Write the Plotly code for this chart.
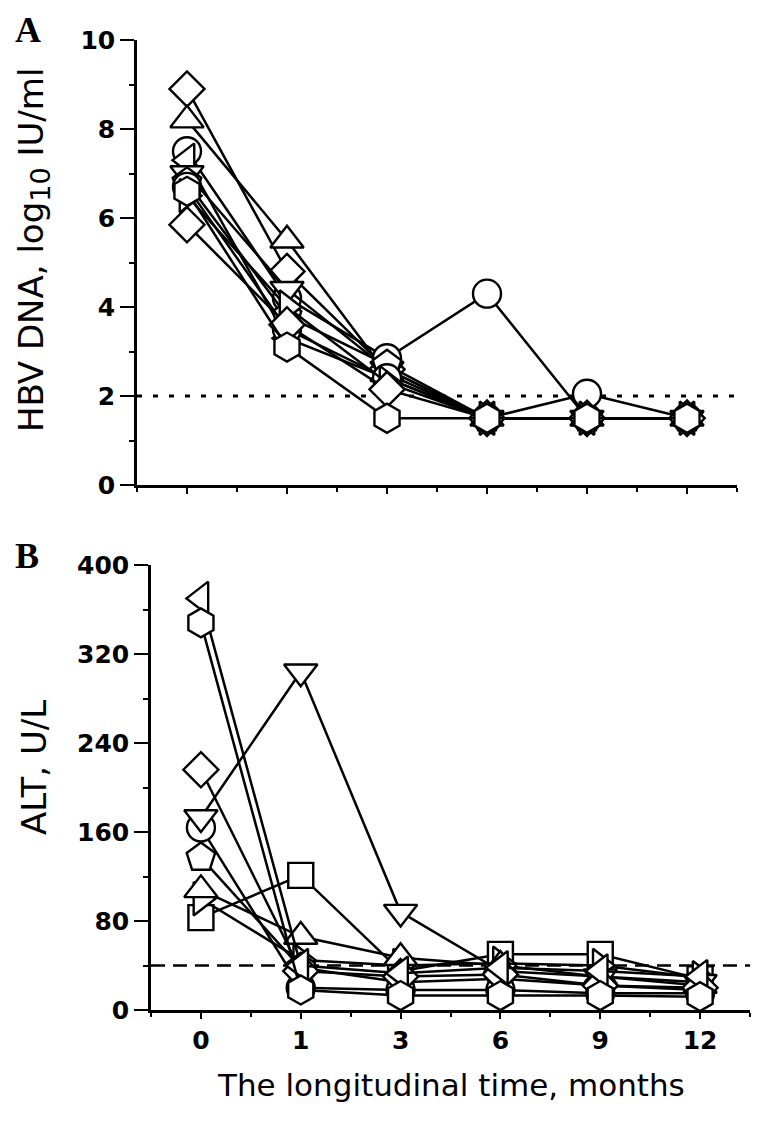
import plotly.graph_objects as go

months = ["0", "1", "3", "6", "9", "12"]
xpos = [0, 1, 2, 3, 4, 5]

# Panel A: HBV DNA, log10 IU/ml
dna_diamond = [8.9, 4.8, 2.6, 1.5, 1.5, 1.5]
dna_tri_up = [8.2, 5.5, 2.5, 1.5, 1.5, 1.5]
dna_circle = [7.5, 4.2, 2.85, 4.3, 1.5, 1.5]
dna_tri_left = [7.3, 3.3, 2.4, 1.5, 1.5, 1.5]
dna_tri_down = [7.0, 4.4, 2.6, 1.5, 1.5, 1.5]
dna_pentagon = [6.8, 3.8, 2.7, 1.5, 1.5, 1.5]
dna_circle2 = [6.7, 3.5, 2.4, 1.5, 2.05, 1.5]
dna_hexagon = [6.6, 3.1, 1.5, 1.5, 1.5, 1.5]
dna_tri_right = [6.5, 4.0, 2.3, 1.5, 1.5, 1.5]
dna_diamond2 = [5.85, 3.6, 2.15, 1.5, 1.5, 1.5]

# Panel B: ALT, U/L
alt_tri_left = [370, 40, 33, 38, 35, 30]
alt_hexagon = [348, 18, 13, 13, 13, 12]
alt_diamond = [216, 35, 30, 32, 22, 20]
alt_tri_down = [173, 304, 88, 35, 30, 25]
alt_circle = [164, 20, 18, 18, 15, 15]
alt_pentagon = [137, 38, 25, 28, 22, 18]
alt_tri_up = [108, 66, 47, 40, 30, 22]
alt_tri_right = [100, 45, 40, 42, 40, 29]
alt_square = [83, 121, 35, 50, 50, 28]

dna_limit = 2
alt_uln = 40

dna_series = [
    (dna_diamond, "diamond"), (dna_tri_up, "triangle-up"), (dna_circle, "circle"),
    (dna_tri_left, "triangle-left"), (dna_tri_down, "triangle-down"),
    (dna_pentagon, "pentagon"), (dna_circle2, "circle"), (dna_tri_right, "triangle-right"),
    (dna_diamond2, "diamond"), (dna_hexagon, "hexagon"),
]
alt_series = [
    (alt_square, "square"), (alt_tri_right, "triangle-right"), (alt_tri_up, "triangle-up"),
    (alt_pentagon, "pentagon"), (alt_circle, "circle"), (alt_tri_down, "triangle-down"),
    (alt_diamond, "diamond"), (alt_tri_left, "triangle-left"), (alt_hexagon, "hexagon"),
]

sizes = {"diamond": 27, "triangle-up": 29, "triangle-down": 29, "triangle-left": 29,
         "triangle-right": 29, "circle": 28, "square": 25, "pentagon": 30, "hexagon": 29}

fig = go.Figure()
for vals, sym in dna_series:
    fig.add_trace(go.Scatter(
        x=xpos, y=vals, mode="lines+markers", xaxis="x", yaxis="y",
        line=dict(color="black", width=2.5),
        marker=dict(symbol=sym, size=sizes[sym], color="white", line=dict(color="black", width=2.4)),
        cliponaxis=False, showlegend=False))
for vals, sym in alt_series:
    fig.add_trace(go.Scatter(
        x=xpos, y=vals, mode="lines+markers", xaxis="x2", yaxis="y2",
        line=dict(color="black", width=2.5),
        marker=dict(symbol=sym, size=sizes[sym], color="white", line=dict(color="black", width=2.4)),
        cliponaxis=False, showlegend=False))

OFF = 8  # page body margin
W, H = 764 - OFF, 1125 - OFF

def px(p):
    return (p - OFF) / W

def py(p):
    return 1 - (p - OFF) / H

tickfont = dict(family="DejaVu Sans", size=25, color="black", weight="bold")

def xax(x0, x1, anchor, labels):
    return dict(domain=[px(x0), px(x1)], range=[-0.5, 5.5], anchor=anchor, automargin=False,
                showline=True, linecolor="black", linewidth=2.5, mirror=False,
                showgrid=False, zeroline=False, ticks="outside", ticklen=6, tickwidth=2,
                tickcolor="black", tickvals=xpos, ticktext=months, showticklabels=labels,
                tickfont=tickfont,
                minor=dict(ticks="outside", tickvals=[-0.5, 0.5, 1.5, 2.5, 3.5, 4.5, 5.5],
                           ticklen=4, tickwidth=2, tickcolor="black"))

def yax(ytop, ybot, anchor, rng, tv, mv):
    return dict(domain=[py(ybot), py(ytop)], range=rng, anchor=anchor, automargin=False,
                showline=True, linecolor="black", linewidth=2.5,
                showgrid=False, zeroline=False, ticks="outside", ticklen=14, tickwidth=2,
                tickcolor="black", tickvals=tv, tickfont=tickfont,
                minor=dict(ticks="outside", tickvals=mv, ticklen=5, tickwidth=2, tickcolor="black"))

def ann(text, x, y, size, family="DejaVu Sans", angle=0):
    return dict(text=text, x=px(x), y=py(y), xref="paper", yref="paper",
                xanchor="center", yanchor="middle", textangle=angle, showarrow=False,
                borderpad=0, font=dict(family=family, size=size, color="black"))

fig.update_layout(
    width=W, height=H, margin=dict(l=0, r=0, t=0, b=0, autoexpand=False),
    paper_bgcolor="white", plot_bgcolor="white",
    xaxis=xax(137, 737, "y", False),
    yaxis=yax(40, 485, "x", [0, 10], [0, 2, 4, 6, 8, 10], [1, 3, 5, 7, 9]),
    xaxis2=xax(151, 750, "y2", True),
    yaxis2=yax(565, 1010, "x2", [0, 400], [0, 80, 160, 240, 320, 400], [40, 120, 200, 280, 360]),
    shapes=[
        dict(type="line", xref="x", yref="y", x0=-0.5, x1=5.5, y0=dna_limit, y1=dna_limit,
             line=dict(color="black", width=3, dash="5px,11px"), layer="below"),
        dict(type="line", xref="x2", yref="y2", x0=-0.5, x1=5.5, y0=alt_uln, y1=alt_uln,
             line=dict(color="black", width=2.5, dash="14px,8px"), layer="below"),
    ],
    annotations=[
        ann("<b>A</b>", 28, 30, 36, "Liberation Serif"),
        ann("<b>B</b>", 27, 556, 36, "Liberation Serif"),
        ann("HBV DNA, log<sub><span style='font-size:27px'>10</span></sub> IU/ml", 33, 250, 34, angle=-90),
        ann("ALT, U/L", 34, 768, 34, angle=-90),
        ann("The longitudinal time, months", 451, 1085, 31),
    ],
)

fig.write_html("out.html")
